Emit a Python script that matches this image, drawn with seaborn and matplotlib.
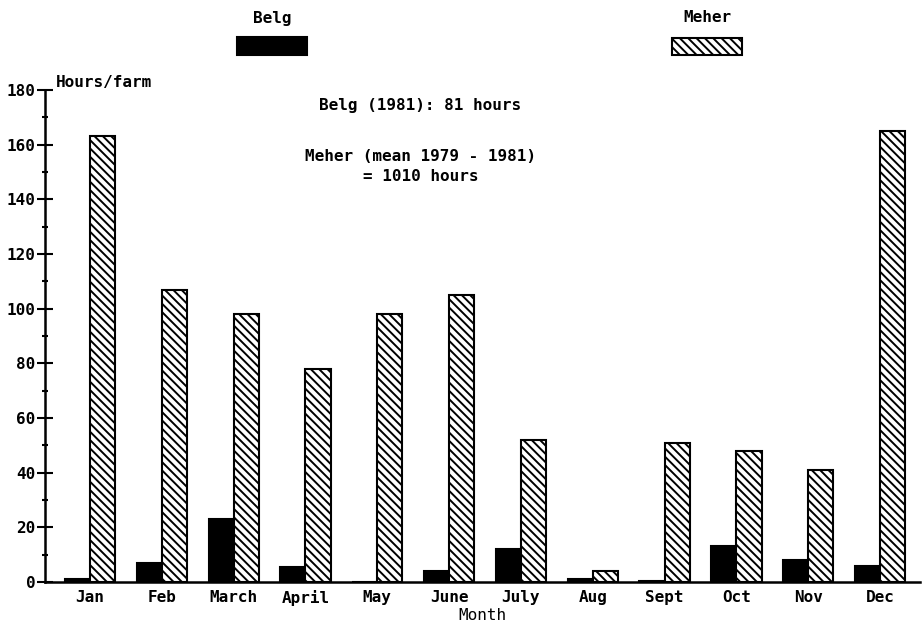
import matplotlib
matplotlib.use("Agg")
import matplotlib.pyplot as plt
from matplotlib.patches import Rectangle
import seaborn as sns
import pandas as pd

months = ["Jan", "Feb", "March", "April", "May", "June",
          "July", "Aug", "Sept", "Oct", "Nov", "Dec"]
belg_hours = [1, 7, 23, 5.5, 0, 4, 12, 1, 0.5, 13, 8, 6]
meher_hours = [163, 107, 98, 78, 98, 105, 52, 4, 51, 48, 41, 165]
seasons = ["Belg", "Meher"]
y_ticks = [0, 20, 40, 60, 80, 100, 120, 140, 160, 180]

df = pd.DataFrame({
    "Month": months * 2,
    "Hours": belg_hours + meher_hours,
    "Season": [seasons[0]] * len(months) + [seasons[1]] * len(months),
})

sns.set_theme(style="white")
plt.rcParams["font.family"] = ["DejaVu Sans Mono"]
plt.rcParams["font.weight"] = "bold"
plt.rcParams["hatch.linewidth"] = 1.4
plt.rcParams["hatch.color"] = "black"
for key in ["text.color", "axes.labelcolor", "xtick.color", "ytick.color"]:
    plt.rcParams[key] = "black"

fig = plt.figure(figsize=(9.22, 6.24), dpi=100)
ax = fig.add_axes([45 / 922, 1 - 582 / 624, 875 / 922, (582 - 90) / 624])

sns.barplot(data=df, x="Month", y="Hours", hue="Season", order=months,
            hue_order=seasons, palette=["black", "white"], width=0.7,
            edgecolor="black", linewidth=1.5, legend=False, ax=ax)

hatch = "\\\\\\\\"
for bar in ax.containers[1]:
    bar.set_hatch(hatch)

ax.set_xlim(-0.627, 11.557)
ax.set_ylim(0, 180)
ax.set_yticks(y_ticks)
ax.set_yticks(range(10, 180, 20), minor=True)
ax.tick_params(axis="y", which="major", direction="inout", length=12,
               width=1.5, labelsize=11.5, pad=1, left=True)
ax.tick_params(axis="y", which="minor", direction="inout", length=5,
               width=1.5, left=True)
ax.tick_params(axis="x", length=0, labelsize=11.5, pad=6)

for side in ["top", "right"]:
    ax.spines[side].set_visible(False)
for side in ["left", "bottom"]:
    ax.spines[side].set_linewidth(1.8)
    ax.spines[side].set_color("black")

ax.set_xlabel("Month", fontsize=11.5, labelpad=1)
ax.set_ylabel("")
ax.text(0.012, 1.0, "Hours/farm", transform=ax.transAxes, fontsize=11.5,
        ha="left", va="bottom")

ax.text(4.6, 174.5, "Belg (1981): 81 hours", fontsize=11.5,
        ha="center", va="center")
ax.text(4.6, 155.5, "Meher (mean 1979 - 1981)", fontsize=11.5,
        ha="center", va="center")
ax.text(4.6, 148.3, "= 1010 hours", fontsize=11.5,
        ha="center", va="center")

# legend keys above the plot
fig.text(272 / 922, 1 - 18 / 624, seasons[0], fontsize=11.5,
         ha="center", va="center")
fig.add_artist(Rectangle((237 / 922, 1 - 55 / 624), 70 / 922, 18 / 624,
                         transform=fig.transFigure, facecolor="black",
                         edgecolor="black", linewidth=1.5))
fig.text(707 / 922, 1 - 18 / 624, seasons[1], fontsize=11.5,
         ha="center", va="center")
fig.add_artist(Rectangle((672 / 922, 1 - 55 / 624), 70 / 922, 17 / 624,
                         transform=fig.transFigure, facecolor="white",
                         edgecolor="black", linewidth=1.5, hatch=hatch))

fig.savefig("out.png", dpi=100)
